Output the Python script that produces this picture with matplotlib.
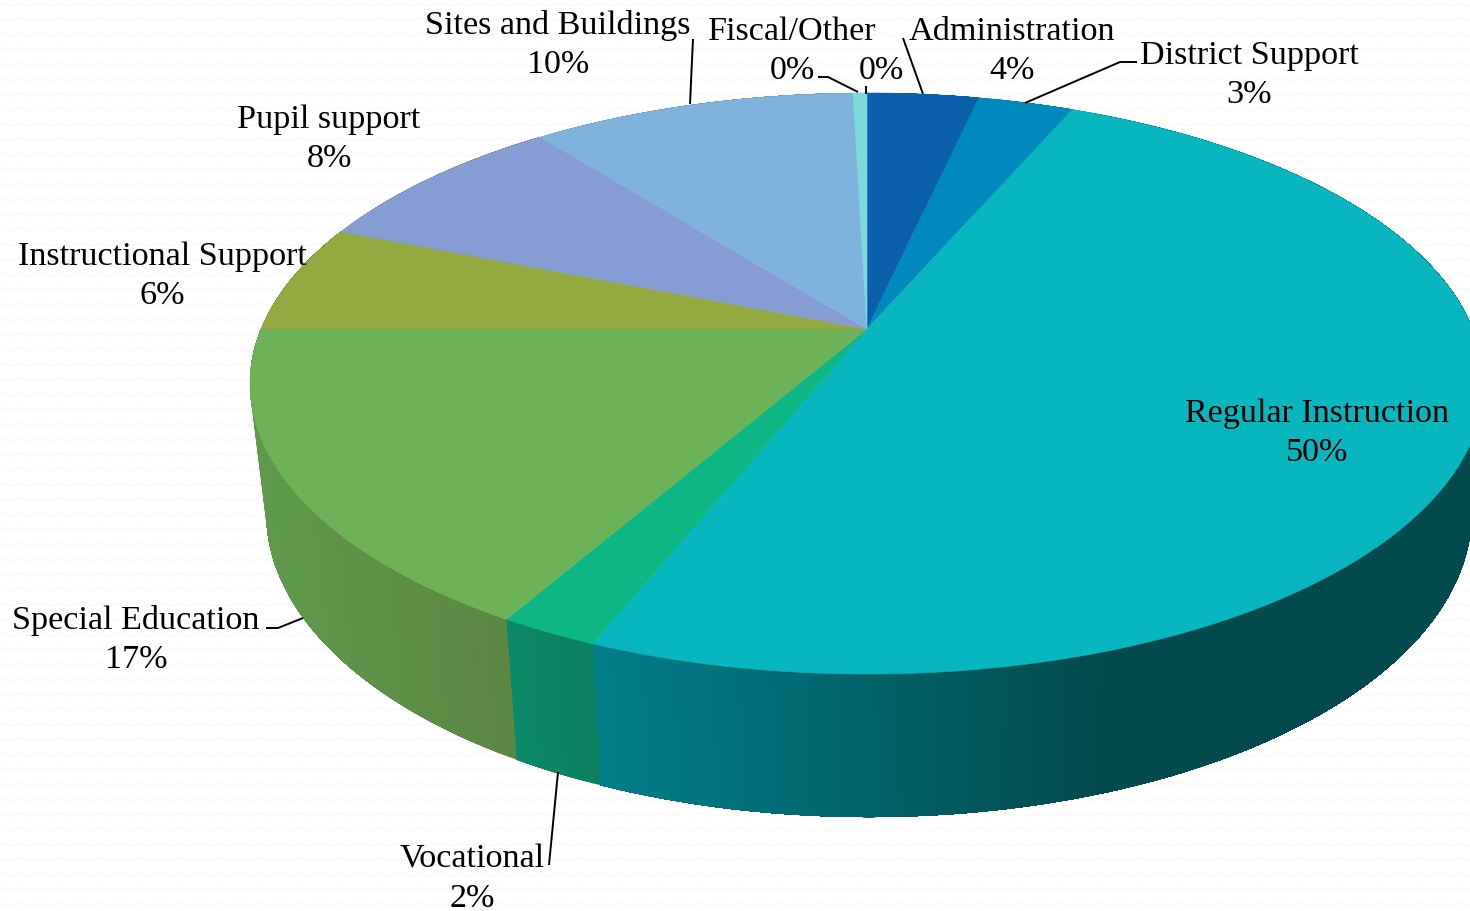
import numpy as np
import matplotlib
matplotlib.use("Agg")
import matplotlib.pyplot as plt
from matplotlib.patches import Polygon
from matplotlib.colors import to_rgb

plt.rcParams['font.family'] = ['Liberation Serif', 'DejaVu Serif']

# clockwise from 12 o'clock
categories = ["Administration", "District Support", "Regular Instruction", "Vocational",
              "Special Education", "Instructional Support", "Pupil support",
              "Sites and Buildings", "Fiscal/Other", ""]
values = [3.5, 3.0, 49.6, 2.2, 16.7, 6.06, 8.3, 10.2, 0.44, 0.0]
top_colors = ["#0c60ab", "#0089bd", "#08b6c0", "#0db784", "#6eb257",
              "#92aa40", "#859dd2", "#80b3dc", "#7fd8dc", "#7fd8dc"]

# wall shading: colour at left x, colour at right x
wall_colors = [("#084a80", "#084a80"), ("#00607f", "#00607f"), ("#007f8b", "#024a4e"),
               ("#0a8a68", "#0b7f60"), ("#5f9a4c", "#5a8742"), ("#667a30", "#667a30"),
               ("#5f7095", "#5f7095"), ("#5a809c", "#5a809c"), ("#5a9a9c", "#5a9a9c"),
               ("#5a9a9c", "#5a9a9c")]
wall_x = [(0, 1470), (0, 1470), (600, 1100), (516, 603), (265, 516),
          (0, 1470), (0, 1470), (0, 1470), (0, 1470), (0, 1470)]

# label centre x, baseline y of the name line
label_pos = [(1012, 40), (1249, 64), (1317, 422), (472, 868), (136, 629),
             (162, 265), (329, 128), (558, 34), (792, 40), (881, 40)]

leaders = [[(903, 39), (923, 95)],
           [(1137, 63), (1120, 63), (1025, 104)],
           [(558, 773), (549, 866)],
           [(266, 629), (278, 629), (303, 619)],
           [(693, 40), (690, 105)],
           [(818, 78), (828, 78), (858, 93)],
           [(866, 87), (866, 95)]]

# perspective of the disc, top and bottom plane
k = 0.1876
top = dict(cx=867, cy=330, A=606, a=280.3)
bot = dict(cx=869, cy=457, A=592, a=293.3)


def project(phi, p):
    u = np.sin(phi)
    v = np.cos(phi)
    w = 1 + k * v
    return p['cx'] + p['A'] * u / w, p['cy'] - p['a'] * v / w


fig = plt.figure(figsize=(14.7, 9.12), dpi=100)
ax = fig.add_axes([0, 0, 1, 1])
ax.set_xlim(0, 1470)
ax.set_ylim(912, 0)
ax.axis('off')

# faint zigzag of the slide background
for y0 in np.arange(4, 912, 15):
    xs = np.arange(0, 1480, 10)
    ys = y0 + 3 * (np.arange(len(xs)) % 2)
    ax.plot(xs, ys, color="#fafafa", lw=1.5, zorder=0)

edges = np.radians(np.cumsum([0] + values) * 3.6)

# walls first, top face goes over them
for i in range(len(values)):
    if values[i] == 0:
        continue
    n = max(int(values[i] * 6), 2)
    ph = np.linspace(edges[i], edges[i + 1], n + 1)
    c0 = np.array(to_rgb(wall_colors[i][0]))
    c1 = np.array(to_rgb(wall_colors[i][1]))
    for j in range(n):
        # each strip reaches to the slice end, the next one paints over it
        seg = np.linspace(ph[j], edges[i + 1], 60)
        xt, yt = project(seg, top)
        xb, yb = project(seg, bot)
        xm = project(ph[j:j + 2], bot)[0].mean()
        t = np.clip((xm - wall_x[i][0]) / (wall_x[i][1] - wall_x[i][0]), 0, 1)
        col = c0 + (c1 - c0) * t
        pts = np.column_stack([np.r_[xt, xb[::-1]], np.r_[yt, yb[::-1]]])
        ax.add_patch(Polygon(pts, closed=True, fc=col, ec='none', zorder=2))

for i in range(len(values)):
    if values[i] == 0:
        continue
    ph = np.linspace(edges[i], edges[i + 1], 200)
    x, y = project(ph, top)
    pts = np.column_stack([np.r_[top['cx'], x], np.r_[top['cy'], y]])
    ax.add_patch(Polygon(pts, closed=True, fc=top_colors[i], ec=top_colors[i], lw=0.4, zorder=3))

for line in leaders:
    xs, ys = zip(*line)
    ax.plot(xs, ys, color="black", lw=1.4, zorder=4, solid_capstyle='butt')

for name, val, pos in zip(categories, values, label_pos):
    if name:
        ax.text(pos[0], pos[1], name, ha='center', va='baseline', fontsize=24.6,
                color="black", zorder=5)
    ax.text(pos[0], pos[1] + 39, f"{val:.0f}%", ha='center', va='baseline', fontsize=24.6,
            color="black", zorder=5)

fig.savefig("out.png", dpi=100, facecolor="white")
